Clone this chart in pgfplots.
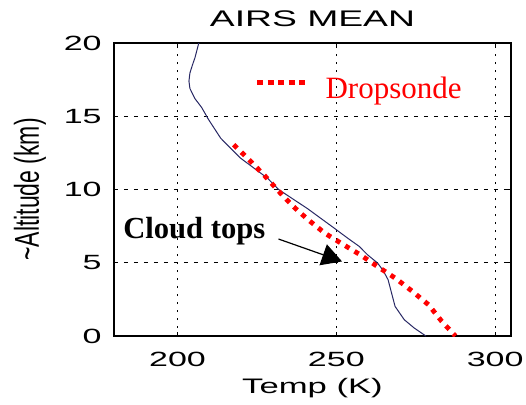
\documentclass[border=0pt]{standalone}
\usepackage{fontspec}
\setmainfont{Liberation Serif}
\newfontfamily\ticksans[FakeStretch=1.65]{Liberation Sans}
\newfontfamily\plainsans{Liberation Sans}
\usepackage{pgfplots}
\pgfplotsset{compat=1.18}
\usetikzlibrary{arrows.meta}

\definecolor{airsblue}{RGB}{40,40,100}
\definecolor{sondered}{RGB}{255,0,0}

\begin{document}
\begin{tikzpicture}
\path[use as bounding box] (-57pt,-34pt) rectangle (206pt,168pt);
\begin{axis}[
  at={(0pt,0pt)}, anchor=south west,
  scale only axis, width=198.5pt, height=146.5pt,
  xmin=180, xmax=305, ymin=0, ymax=20,
  xtick={200,250,300}, ytick={0,5,10,15,20},
  grid=major,
  x grid style={black, line width=0.5pt, dash pattern=on 1pt off 3pt},
  y grid style={black, line width=0.5pt, dash pattern=on 2pt off 3pt},
  axis line style={black, line width=0.6pt},
  tick align=inside, major tick length=2pt, tick style={black, line width=0.5pt},
  /pgf/number format/assume math mode=true,
  ticklabel style={font=\fontsize{10.3}{12}\ticksans},
  xticklabel style={anchor=base, inner sep=0pt, yshift=-15pt},
  yticklabel style={anchor=east, inner sep=0pt, xshift=-6pt},
  title={AIRS MEAN},
  title style={font=\fontsize{11.3}{13}\ticksans, at={(rel axis cs:0.5,1)}, anchor=base, yshift=2.5pt, inner sep=0pt},
  xlabel={Temp (K)},
  xlabel style={font=\fontsize{10.5}{12}\ticksans, at={(rel axis cs:0.5,0)}, anchor=base, yshift=-28.5pt, inner sep=0pt},
  ylabel={\scalebox{1}[1.5]{\textasciitilde Altitude (km)}},
  ylabel style={font=\fontsize{11.5}{13}\plainsans, at={([xshift=-42pt]rel axis cs:0,0.5)}, anchor=center, inner sep=0pt},
  legend style={draw=none, fill=none, inner sep=0pt, at={(axis cs:224.2,16.85)}, anchor=west,
    font=\fontsize{15.5}{18}\selectfont, text=sondered, cells={anchor=west}},
  legend image code/.code={\draw[#1, dash pattern=on 3pt off 2.25pt] (0pt,3.5pt) -- (24pt,3.5pt); \path (31pt,3.5pt);},
]
\addplot[airsblue, line width=0.5pt, forget plot] coordinates {
(206.7,20.0) (205.5,19.0) (204.7,18.5) (203.9,17.95) (203.6,17.4) (203.9,16.9)
(205.5,16.2) (207.6,15.6) (209.7,14.8) (211.8,14.1) (213.6,13.5) (215.6,13.06)
(219.8,12.15) (224.0,11.47) (228.3,10.78) (231.9,9.99) (236.7,9.30) (240.9,8.70)
(245.0,8.05) (249.3,7.37) (253.5,6.69) (257.2,6.12) (259.8,5.55) (263.0,4.98)
(264.8,4.45) (266.3,3.84) (267.4,2.93) (268.5,2.02) (271.4,1.11) (274.5,0.55)
(278.2,0.0)
};
\addplot[sondered, line width=2.4pt, dash pattern=on 2.4pt off 3pt] coordinates {
(217.7,13.06) (222.5,12.03) (227.2,11.0) (231.6,9.94) (236.2,8.89) (241.0,7.96)
(246.3,7.03) (251.9,6.28) (257.5,5.55) (263.2,4.71) (268.7,3.93) (274.0,3.04)
(279.0,2.14) (283.2,1.0) (287.5,0.0)
};
\addlegendentry{Dropsonde}
\node[anchor=base west, inner sep=0pt, font=\fontsize{15.3}{18}\selectfont\bfseries] at (axis cs:182.8,6.64) {Cloud tops};
\draw[black, line width=0.6pt, -{Triangle[length=10pt,width=11pt]}] (axis cs:231.8,6.62) -- (axis cs:251.8,5.09);
\end{axis}
\end{tikzpicture}
\end{document}
